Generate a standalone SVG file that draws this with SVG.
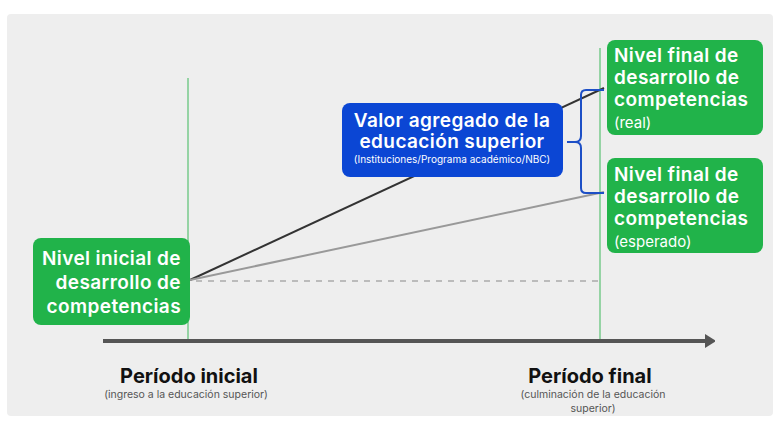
<svg xmlns="http://www.w3.org/2000/svg" width="777" height="423" viewBox="0 0 777 423">
<style>
.box{fill:#21b34a}
.bt{font-family:Inter,"Open Sans",sans-serif;font-weight:600;font-size:19px;letter-spacing:0.4px;fill:#ffffff}
.bl{font-family:Inter,"Open Sans",sans-serif;font-weight:400;font-size:15px;fill:#ffffff}
.vl{stroke:#3cb85a;stroke-width:1}
.pt{font-family:Inter,"Open Sans",sans-serif;font-weight:700;font-size:20px;fill:#111111;text-anchor:middle}
.ps{font-family:Inter,"Open Sans",sans-serif;font-size:10.5px;fill:#555555;text-anchor:middle}
</style>
<defs>
<marker id="arr" markerWidth="10" markerHeight="14" refX="1" refY="7" orient="auto" markerUnits="userSpaceOnUse">
<path d="M0,0 L11,7 L0,14 Z" fill="#555555"/>
</marker>
</defs>
<rect x="0" y="0" width="777" height="423" fill="#ffffff"/>
<rect x="7" y="14" width="766" height="402" rx="4" fill="#eeeeee"/>
<g id="connectors">
<line class="vl" x1="188" y1="78" x2="188" y2="340"/>
<line class="vl" x1="600" y1="48" x2="600" y2="340"/>
<line x1="103" y1="341" x2="706" y2="341" stroke="#555555" stroke-width="4" marker-end="url(#arr)"/>
<line x1="196" y1="281" x2="600" y2="281" stroke="#888888" stroke-width="1" stroke-dasharray="6,6"/>
<line x1="190" y1="280" x2="604" y2="88" stroke="#333333" stroke-width="2"/>
<line x1="190" y1="280" x2="604" y2="192" stroke="#999999" stroke-width="2"/>
<path d="M604,90 H586 Q581,90 581,95 V136 Q581,142 575,142 H567 H575 Q581,142 581,148 V188 Q581,193 586,193 H604" fill="none" stroke="#1d4fc6" stroke-width="2"/>
</g>
<g id="node-inicial">
<rect class="box" x="33" y="238" width="157" height="87" rx="8"/>
<text class="bt" text-anchor="end" x="181"><tspan x="181" y="265">Nivel inicial de</tspan><tspan x="181" y="289">desarrollo de</tspan><tspan x="181" y="313">competencias</tspan></text>
</g>
<g id="node-valor">
<rect x="342" y="103" width="221" height="74" rx="8" fill="#0b46d4"/>
<text class="bt" text-anchor="middle" x="452"><tspan x="452" y="127">Valor agregado de la</tspan><tspan x="452" y="148">educación superior</tspan></text>
<text x="452" y="163" text-anchor="middle" font-family="Inter,'Open Sans',sans-serif" font-size="10" fill="#ffffff">(Instituciones/Programa académico/NBC)</text>
</g>
<g id="node-real">
<rect class="box" x="607" y="40" width="156" height="95" rx="8"/>
<text class="bt" x="614"><tspan x="614" y="62">Nivel final de</tspan><tspan x="614" y="84">desarrollo de</tspan><tspan x="614" y="106">competencias</tspan></text>
<text class="bl" x="614" y="128">(real)</text>
</g>
<g id="node-esperado">
<rect class="box" x="607" y="158" width="156" height="95" rx="8"/>
<text class="bt" x="614"><tspan x="614" y="181">Nivel final de</tspan><tspan x="614" y="203">desarrollo de</tspan><tspan x="614" y="225">competencias</tspan></text>
<text class="bl" x="614" y="247">(esperado)</text>
</g>
<g id="label-inicial">
<text class="pt" x="189" y="383">Período inicial</text>
<text class="ps" x="186" y="398">(ingreso a la educación superior)</text>
</g>
<g id="label-final">
<text class="pt" x="590" y="383">Período final</text>
<text class="ps" x="593" y="398">(culminación de la educación</text>
<text class="ps" x="593" y="412">superior)</text>
</g>
</svg>
